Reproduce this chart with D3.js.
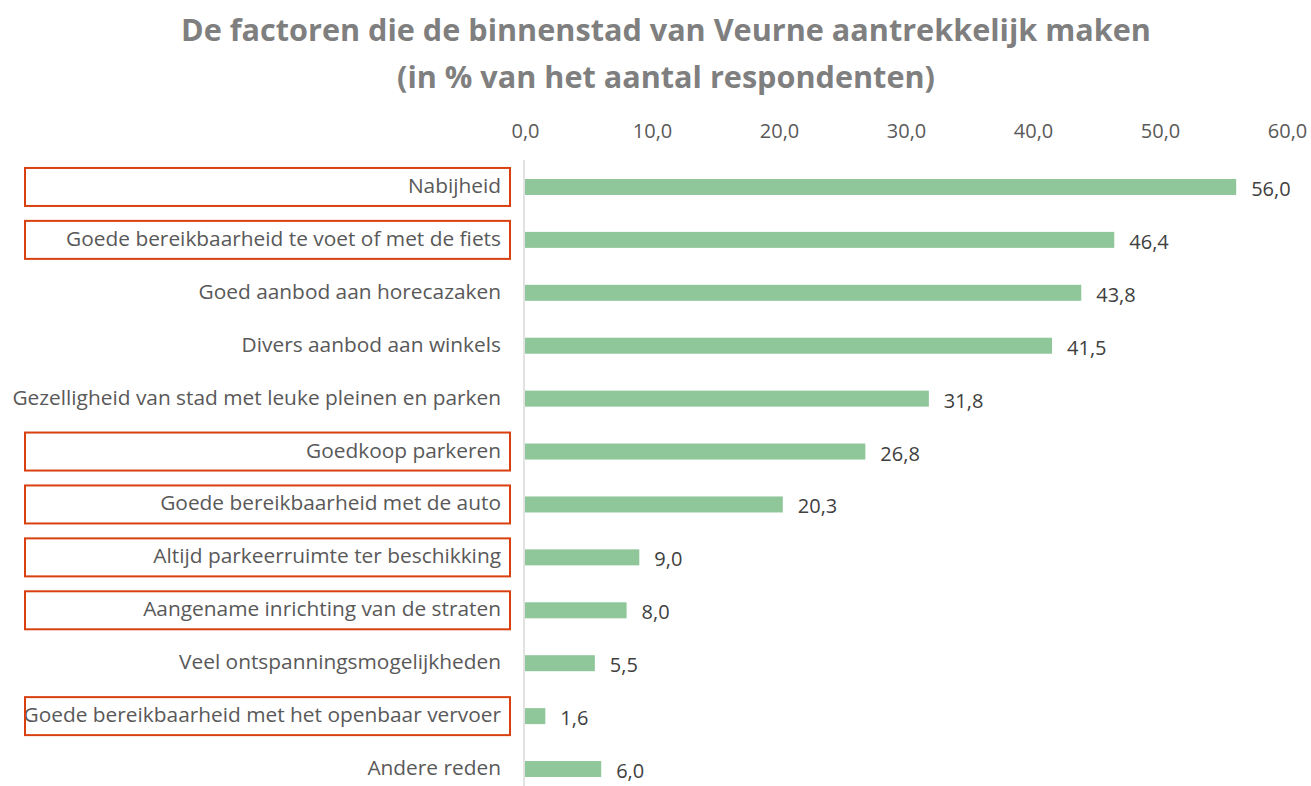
<!DOCTYPE html>
<meta charset="utf-8">
<style>
body{margin:0;background:#fff;}
text{font-family:"Open Sans",Lato,sans-serif;}
.title{font-weight:bold;fill:#7f7f7f;font-size:30px;}
.tick text{fill:#595959;font-size:20px;font-family:"Open Sans",sans-serif;}
.label{fill:#595959;font-size:18px;}
.val{fill:#404040;font-size:20px;}
</style>
<body>
<script src="https://d3js.org/d3.v7.min.js"></script>
<script>
var categories = ["Nabijheid","Goede bereikbaarheid te voet of met de fiets","Goed aanbod aan horecazaken",
  "Divers aanbod aan winkels","Gezelligheid van stad met leuke pleinen en parken","Goedkoop parkeren",
  "Goede bereikbaarheid met de auto","Altijd parkeerruimte ter beschikking","Aangename inrichting van de straten",
  "Veel ontspanningsmogelijkheden","Goede bereikbaarheid met het openbaar vervoer","Andere reden"];
var values = [56.0,46.4,43.8,41.5,31.8,26.8,20.3,9.0,8.0,5.5,1.6,6.0];
var highlighted = [true,true,false,false,false,true,true,true,true,false,true,false];
var ticks = [0,10,20,30,40,50,60];
var titleLines = ["De factoren die de binnenstad van Veurne aantrekkelijk maken","(in % van het aantal respondenten)"];

var W = 1311, H = 786;
var svg = d3.select("body").append("svg").attr("width",W).attr("height",H);

var fmt = function(v){ return d3.format(".1f")(v).replace(".",","); };

var x = d3.scaleLinear().domain([0,60]).range([525,1287]);
var y = d3.scaleBand().domain(categories).range([160.5,795.5]).paddingInner(0.7).paddingOuter(0.35);

// title, sized so the first line is about 970px wide
var title = svg.selectAll(".title").data(titleLines).enter().append("text")
  .attr("class","title").attr("x",666).attr("y",(d,i)=>41+i*47)
  .attr("text-anchor","middle").text(d=>d);
var tw = title.node().getComputedTextLength();
title.style("font-size",(30*970/tw)+"px");

// top axis
var ax = svg.append("g").attr("transform","translate(0,138)")
  .call(d3.axisTop(x).tickValues(ticks).tickFormat(fmt).tickSize(0).tickPadding(0));
ax.select(".domain").remove();

// vertical axis line
svg.append("line").attr("x1",x(0)-1).attr("x2",x(0)-1).attr("y1",160).attr("y2",H)
  .attr("stroke","#d9d9d9").attr("stroke-width",1.5);

// bars
svg.selectAll(".bar").data(values).enter().append("rect").attr("class","bar")
  .attr("x",x(0)).attr("y",(d,i)=>y(categories[i])+y.bandwidth()/2-8)
  .attr("width",d=>x(d)-x(0)).attr("height",16).attr("fill","#8fc79a");

// value labels
svg.selectAll(".val").data(values).enter().append("text").attr("class","val")
  .attr("x",d=>x(d)+15).attr("y",(d,i)=>y(categories[i])+y.bandwidth()/2+9)
  .text(fmt);

// category labels, longest one ~489px
var labels = svg.selectAll(".label").data(categories).enter().append("text").attr("class","label")
  .attr("x",501).attr("y",d=>y(d)+y.bandwidth()/2+6)
  .attr("text-anchor","end").text(d=>d);
var lw = labels.filter((d,i)=>i==4).node().getComputedTextLength();
labels.style("font-size",(18*489/lw)+"px");

// red boxes
svg.selectAll(".box").data(categories.filter((d,i)=>highlighted[i])).enter().append("rect")
  .attr("class","box").attr("x",25).attr("width",485)
  .attr("y",d=>y(d)+y.bandwidth()/2-19).attr("height",38)
  .attr("fill","none").attr("stroke","#d9400f").attr("stroke-width",2);
</script>
</body>
</html>
